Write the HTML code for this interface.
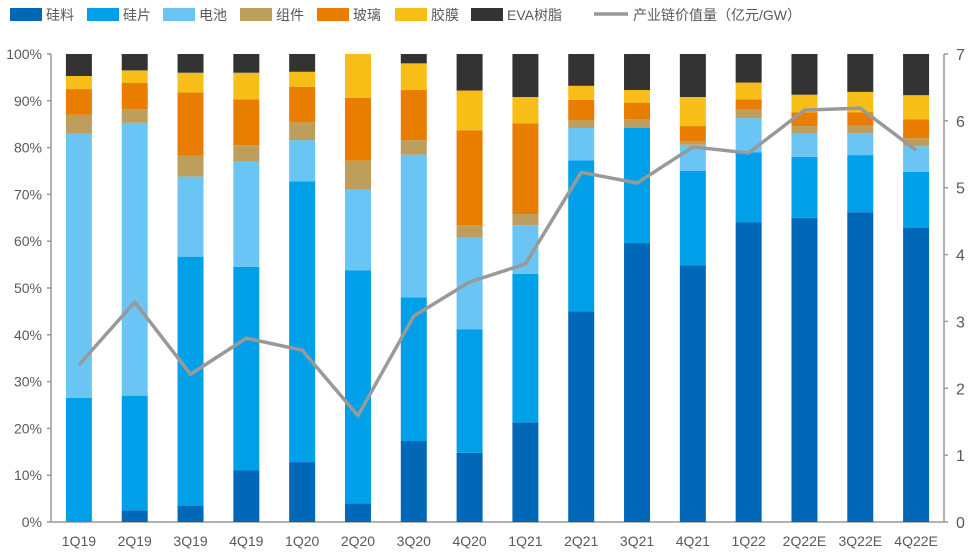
<!DOCTYPE html>
<html><head><meta charset="utf-8"><style>
body{margin:0;background:#fff;font-family:"Liberation Sans","Noto Sans CJK SC",sans-serif;}
svg text{font-family:"Liberation Sans","Noto Sans CJK SC",sans-serif;fill:#595959;}
</style></head><body>
<svg id="c" width="976" height="555"></svg>
<script>
const categories=["1Q19","2Q19","3Q19","4Q19","1Q20","2Q20","3Q20","4Q20","1Q21","2Q21","3Q21","4Q21","1Q22","2Q22E","3Q22E","4Q22E"];
const seriesNames=["硅料","硅片","电池","组件","玻璃","胶膜","EVA树脂"];
const silicon=[0,2.5,3.5,11,12.8,4,17.3,14.8,21.3,45,59.6,54.8,64,65,66.2,62.9];
const wafer=[26.5,24.5,53.2,43.5,60,49.8,30.7,26.4,31.7,32.3,24.6,20.2,15,13,12.2,11.9];
const cell=[56.5,58.3,17.1,22.5,8.8,17.2,30.5,19.6,10.4,6.9,0,5.6,7.3,5,4.7,5.5];
const modules=[4,2.9,4.5,3.5,3.8,6.2,3.1,2.6,2.4,1.7,1.9,0.8,1.8,1.6,1.6,1.7];
const glass=[5.5,5.6,13.5,9.8,7.6,13.4,10.7,20.3,19.4,4.3,3.5,3.2,2.2,2.9,2.8,4];
const film=[2.8,2.7,4.2,5.7,3.2,9.4,5.7,8.5,5.6,3,2.7,6.2,3.6,3.8,4.4,5.2];
const eva=[4.7,3.5,4,4,3.8,0,2,7.8,9.2,6.8,7.7,9.2,6.1,8.7,8.1,8.8];
const chainValue=[2.35,3.29,2.21,2.75,2.57,1.59,3.08,3.59,3.86,5.23,5.07,5.61,5.52,6.16,6.19,5.56];
const leftTicks=["0%","10%","20%","30%","40%","50%","60%","70%","80%","90%","100%"];
const rightTicks=["0","1","2","3","4","5","6","7"];
const colors=["#0068b7","#00a0e9","#6ac5f4","#be9e5c","#e97d00","#f8be18","#333333"];
const series=[silicon,wafer,cell,modules,glass,film,eva];
const NS="http://www.w3.org/2000/svg";
const svg=document.getElementById('c');
const L=51,R=944,T=54,B=522;
const band=(R-L)/categories.length;
const yL=v=>B-(v/100)*(B-T);
const yR=v=>B-(v/7)*(B-T);
const xC=i=>L+band*(i+0.5);
function mk(t,a){const e=document.createElementNS(NS,t);for(const k in a)e.setAttribute(k,a[k]);svg.appendChild(e);return e;}
// axes
let ax=mk('line',{x1:L,y1:T,x2:L,y2:B,stroke:'#999','stroke-width':1.5});

ax=mk('line',{x1:R,y1:T,x2:R,y2:B,stroke:'#999','stroke-width':1.5});

ax=mk('line',{x1:L,y1:B,x2:R,y2:B,stroke:'#999','stroke-width':1.5});

leftTicks.forEach((t,i)=>{const y=yL(i*10);
 mk('line',{x1:L-4,y1:y,x2:L,y2:y,stroke:'#999','stroke-width':1.5});
 const e=mk('text',{x:L-9,y:y+5,'text-anchor':'end','font-size':14});e.textContent=t;
 });
rightTicks.forEach((t,i)=>{const y=yR(i);
 mk('line',{x1:R,y1:y,x2:R+4,y2:y,stroke:'#999','stroke-width':1.5});
 const e=mk('text',{x:R+12,y:y+6,'font-size':16});e.textContent=t;
 });
categories.forEach((c,i)=>{
 let cum=0;
 series.forEach((s,k)=>{const v=s[i];if(v<=0){return;}
  const r=mk('rect',{x:xC(i)-13,y:yL(cum+v),width:26,height:yL(cum)-yL(cum+v),fill:colors[k]});
  
  cum+=v;});
 const e=mk('text',{x:xC(i),y:546,'text-anchor':'middle','font-size':14});e.textContent=c;
 
});
const pts=chainValue.map((v,i)=>xC(i)+','+yR(v)).join(' ');
const pl=mk('polyline',{points:pts,fill:'none',stroke:'#999','stroke-width':3.5,'stroke-linejoin':'round'});

// legend
const lx=[10,87,163,240,317,395,471];
seriesNames.forEach((n,k)=>{
 const g=mk('rect',{x:lx[k],y:8,width:32,height:13,fill:colors[k]});
 
 const e=mk('text',{x:lx[k]+36,y:20,'font-size':14});e.textContent=n;
 });
let ll=mk('line',{x1:594,y1:14,x2:628,y2:14,stroke:'#999','stroke-width':3.5});

const le=mk('text',{x:633,y:20,'font-size':14});le.textContent='产业链价值量（亿元/GW）';

</script>
</body></html>
